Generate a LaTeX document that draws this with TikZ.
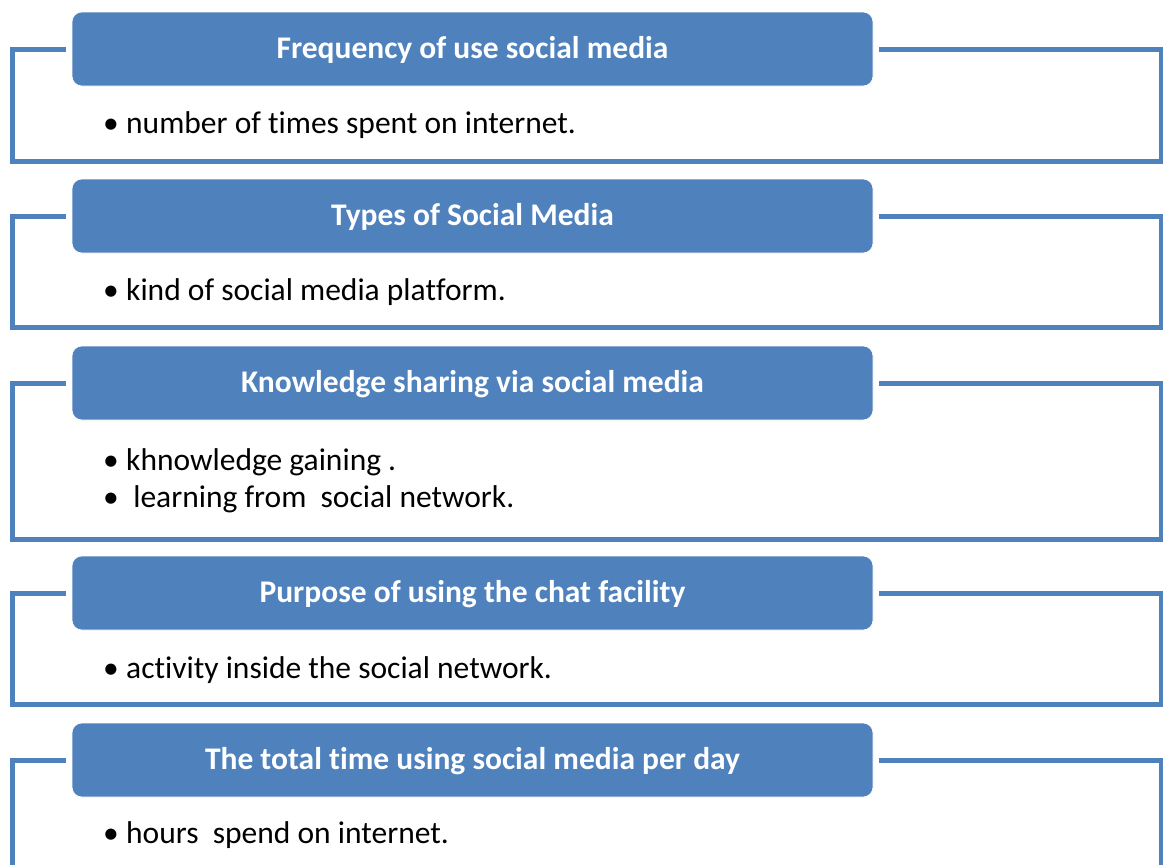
\documentclass[tikz,border=0pt]{standalone}
\usepackage{fontspec}
\setmainfont{Carlito}[Ligatures={NoCommon}]
\definecolor{accentblue}{HTML}{4F81BD}
\begin{document}
\begin{tikzpicture}[x=1pt,y=-1pt,
  titlebox/.style={fill=accentblue, draw=white, line width=0.6pt, rounded corners=10pt,
    minimum width=801pt, minimum height=74pt, inner sep=0pt,
    text height=22pt, text depth=4pt,
    text=white, font=\fontsize{31.5}{36}\selectfont\bfseries},
  frameline/.style={draw=accentblue, line width=5pt, line join=miter},
  bodytext/.style={anchor=base west, inner sep=0pt, font=\fontsize{31.5}{36}\selectfont},
]
\useasboundingbox (0,0) rectangle (1163,865);
\newcommand{\bul}{\makebox[23pt][l]{•}}

% title boxes
\node[titlebox] (t1) at (472.5,49)  {Frequency of use social media};
\node[titlebox] (t2) at (472.5,216) {Types of Social Media};
\node[titlebox] (t3) at (472.5,383) {Knowledge sharing via social media};
\node[titlebox] (t4) at (472.5,593) {Purpose of using the chat facility};
\node[titlebox] (t5) at (472.5,760) {The total time using social media per day};

% bracket frames hanging from each title
\foreach \t/\b in {t1/161, t2/327, t3/539, t4/704, t5/880}{
  \draw[frameline] ([xshift=-6pt]\t.west) -- (12,0 |- \t.west) -- (12,\b)
    -- (1161,\b) -- (1161,0 |- \t.east) -- ([xshift=6pt]\t.east);
}

% bullet items
\node[bodytext] (b1)  at (103,133) {\bul number of times spent on internet.};
\node[bodytext] (b2)  at (103,300) {\bul kind of social media platform.};
\node[bodytext] (b3a) at (103,470) {\bul khnowledge gaining .};
\node[bodytext] (b3b) at (103,507) {\bul\ learning from\ \ social network.};
\node[bodytext] (b4)  at (103,678) {\bul activity inside the social network.};
\node[bodytext] (b5)  at (103,843) {\bul hours\ \ spend on internet.};
\end{tikzpicture}
\end{document}
